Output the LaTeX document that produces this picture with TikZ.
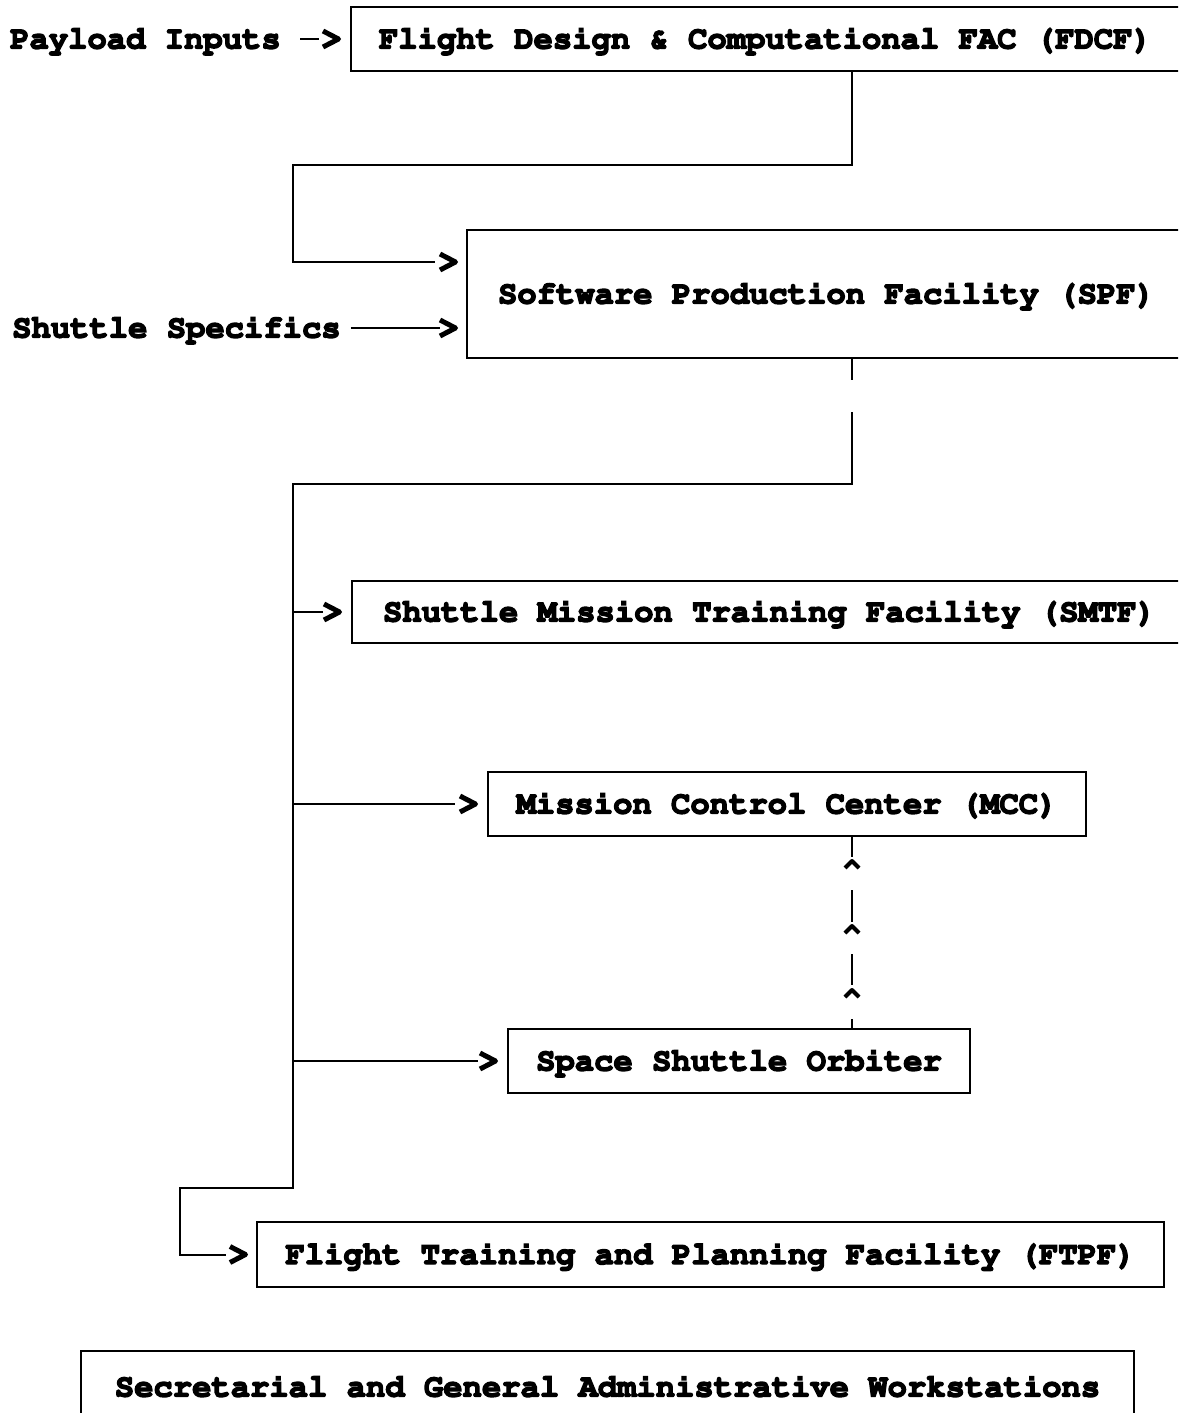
\documentclass[tikz,border=0pt]{standalone}
\usepackage[T1]{fontenc}
\usetikzlibrary{calc}
% heavy typewriter face: bold Courier, glyphs filled and outlined
\newcommand\labelfont{\fontencoding{T1}\fontfamily{pcr}\fontseries{b}\fontsize{32.2}{38}\selectfont
  \special{pdf:literal direct 2 Tr 1.4 w}}
\newcommand\openrow[1]{\makebox[900pt][l]{#1}}

\tikzset{
  wire/.style={line width=2pt},
  box/.style={draw, line width=2pt, anchor=north west, inner sep=0pt,
              font=\labelfont, text height=19pt, text depth=0pt},
  openbox/.style={box},
  tag/.style={anchor=west, inner sep=0pt, font=\labelfont,
              text height=19pt, text depth=0pt},
  chevron/.pic={\draw[line width=5pt, line join=round] (-18,-8) -- (-2.5,0) -- (-18,8);},
  caret/.pic={\draw[line width=4pt, line join=round] (-7,9) -- (0,2) -- (7,9);}
}

\begin{document}
\begin{tikzpicture}[x=1pt, y=-1pt]
  \useasboundingbox (0,0) rectangle (1178,1413);
  \clip (0,0) rectangle (1178,1413);

  % columns used by the vertical runs
  \coordinate (tap) at (852,0);
  \coordinate (bus) at (293,0);
  \coordinate (feed) at (180,0);

  % facilities
  \node[openbox, inner xsep=28pt, minimum height=64pt] (fdcf) at (350,6)
    {\openrow{Flight Design \& Computational FAC (FDCF)}};
  \node[openbox, inner xsep=31pt, minimum height=128pt] (spf) at (466,229)
    {\openrow{Software Production Facility (SPF)}};
  \node[openbox, inner xsep=31pt, minimum height=62pt] (smtf) at (351,580)
    {\openrow{Shuttle Mission Training Facility (SMTF)}};
  \node[box, minimum width=598pt, minimum height=64pt] (mcc) at (487,771)
    {Mission Control Center (MCC)};
  \node[box, minimum width=462pt, minimum height=64pt] (orb) at (507,1028)
    {Space Shuttle Orbiter};
  \node[box, minimum width=907pt, minimum height=65pt] (ftpf) at (256,1221)
    {Flight Training and Planning Facility (FTPF)};
  \node[box, minimum width=1053pt, minimum height=72pt] (sgaw) at (80,1350)
    {Secretarial and General Administrative Workstations};

  % external inputs
  \node[tag] (pin) at (10,39) {Payload Inputs};
  \node[tag] (ssp) at (12,328) {Shuttle Specifics};

  % payload inputs into FDCF
  \draw[wire] ($(fdcf.west |- pin.east)+(-50,0)$) -- ($(fdcf.west |- pin.east)+(-31,0)$);
  \pic at ($(fdcf.west |- pin.east)+(-9,0)$) {chevron};

  % FDCF output into SPF
  \draw[wire] (fdcf.south -| tap) |- (bus |- 0,165) |- ($(spf.west |- 0,262)+(-31,0)$);
  \pic at ($(spf.west |- 0,262)+(-8,0)$) {chevron};

  % shuttle specifics into SPF
  \draw[wire] ($(ssp.east)+(10,0)$) -- ($(spf.west |- ssp.east)+(-26,0)$);
  \pic at ($(spf.west |- ssp.east)+(-8,0)$) {chevron};

  % SPF output down to the distribution bus
  \draw[wire] (spf.south -| tap) -- ($(spf.south -| tap)+(0,21)$);
  \draw[wire] ($(spf.south -| tap)+(0,53)$) |- (bus |- 0,484) -- (bus |- 0,1188)
    -| (feed |- ftpf.west) -- ($(ftpf.west)+(-30,0)$);
  \pic at ($(ftpf.west)+(-8,0)$) {chevron};

  % branches off the bus
  \draw[wire] (bus |- smtf.west) -- ($(smtf.west)+(-28,0)$);
  \pic at ($(smtf.west)+(-9,0)$) {chevron};
  \draw[wire] (bus |- mcc.west) -- ($(mcc.west)+(-32,0)$);
  \pic at ($(mcc.west)+(-9,0)$) {chevron};
  \draw[wire] (bus |- orb.west) -- ($(orb.west)+(-29,0)$);
  \pic at ($(orb.west)+(-9,0)$) {chevron};

  % orbiter downlink to MCC
  \coordinate (m) at (mcc.south -| tap);
  \draw[wire] (m) -- ($(m)+(0,20)$);
  \pic at ($(m)+(0,22)$) {caret};
  \draw[wire] ($(m)+(0,53)$) -- ($(m)+(0,85)$);
  \pic at ($(m)+(0,87)$) {caret};
  \draw[wire] ($(m)+(0,117)$) -- ($(m)+(0,148)$);
  \pic at ($(m)+(0,151)$) {caret};
  \draw[wire] ($(m)+(0,182)$) -- (orb.north -| tap);
\end{tikzpicture}
\end{document}
